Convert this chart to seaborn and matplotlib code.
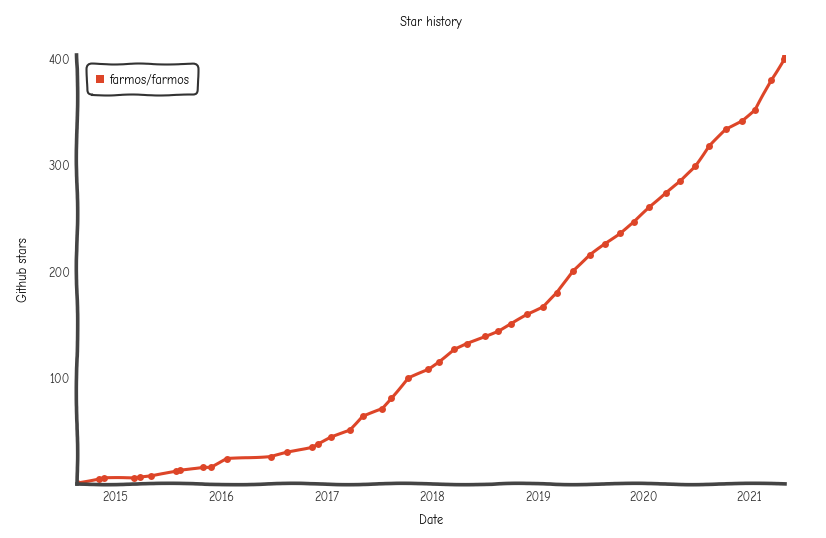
import matplotlib
matplotlib.use("Agg")
import matplotlib.pyplot as plt
import matplotlib.dates as mdates
import seaborn as sns
import pandas as pd

# star history
dates = [
    "2014-08-20", "2014-11-04", "2014-11-21", "2015-03-05", "2015-03-26",
    "2015-05-02", "2015-07-30", "2015-08-13", "2015-10-30", "2015-11-27",
    "2016-01-21", "2016-06-20", "2016-08-17", "2016-11-12", "2016-12-01",
    "2017-01-14", "2017-03-21", "2017-05-04", "2017-07-12", "2017-08-12",
    "2017-10-10", "2017-12-18", "2018-01-22", "2018-03-18", "2018-04-29",
    "2018-06-30", "2018-08-17", "2018-10-01", "2018-11-24", "2019-01-18",
    "2019-03-07", "2019-05-02", "2019-07-01", "2019-08-19", "2019-10-11",
    "2019-11-30", "2020-01-21", "2020-03-17", "2020-05-07", "2020-06-27",
    "2020-08-14", "2020-10-12", "2020-12-06", "2021-01-20", "2021-03-17",
    "2021-05-02", "2021-05-03",
]
stars = [
    1, 5, 6, 6, 7,
    8, 12, 13, 16, 16,
    24, 26, 30, 35, 38,
    44, 51, 64, 71, 81,
    100, 108, 115, 127, 132,
    139, 144, 151, 160, 167,
    180, 201, 216, 226, 236,
    247, 261, 274, 285, 299,
    318, 334, 342, 352, 380,
    400, 403,
]
repo = "farmos/farmos"
y_ticks = [100, 200, 300, 400]

df = pd.DataFrame({"date": pd.to_datetime(dates), "stars": stars, "repo": repo})

plt.xkcd(scale=0.6, length=150, randomness=3)
plt.rcParams["font.family"] = ["Comic Neue", "Lato", "DejaVu Sans"]
plt.rcParams["path.effects"] = []

fig = plt.figure(figsize=(8.26, 5.38), dpi=100)
ax = fig.add_axes([0.093, 0.100, 0.857, 0.798])

sns.lineplot(data=df, x="date", y="stars", hue="repo", palette=["#dd4528"],
             marker="o", markersize=5, markeredgewidth=0, linewidth=2.2, ax=ax)
for ln in ax.lines:
    ln.set_sketch_params(scale=0.25, length=60, randomness=2)

ax.set_xlim(df["date"].min(), df["date"].max())
ax.set_ylim(0, 404)
ax.set_yticks(y_ticks)
ax.xaxis.set_major_locator(mdates.YearLocator())
ax.xaxis.set_major_formatter(mdates.DateFormatter("%Y"))
ax.tick_params(axis="both", length=0, labelsize=9, colors="#333333", pad=5)

for s in ["top", "right"]:
    ax.spines[s].set_visible(False)
for s in ["left", "bottom"]:
    ax.spines[s].set_color("#444444")
    ax.spines[s].set_linewidth(2.6)
    ax.spines[s].set_sketch_params(scale=0.7, length=150, randomness=3)

ax.set_title("Star history", fontsize=9, pad=21)
ax.set_xlabel("Date", fontsize=9, labelpad=7)
ax.set_ylabel("Github stars", fontsize=9, labelpad=13)

leg = ax.legend(loc="upper left", bbox_to_anchor=(0.01, 0.985), frameon=True,
                fontsize=9, handlelength=0.6, handletextpad=0.5,
                markerscale=1.2, borderpad=0.45)
leg.get_frame().set_edgecolor("black")
leg.get_frame().set_linewidth(1.5)
leg.get_frame().set_boxstyle("round,pad=0.25,rounding_size=0.4")
leg.get_frame().set_sketch_params(scale=0.5, length=60, randomness=2)
for h in leg.legend_handles:
    h.set_marker("s")
    h.set_linewidth(0)

fig.savefig("out.png", dpi=100)
